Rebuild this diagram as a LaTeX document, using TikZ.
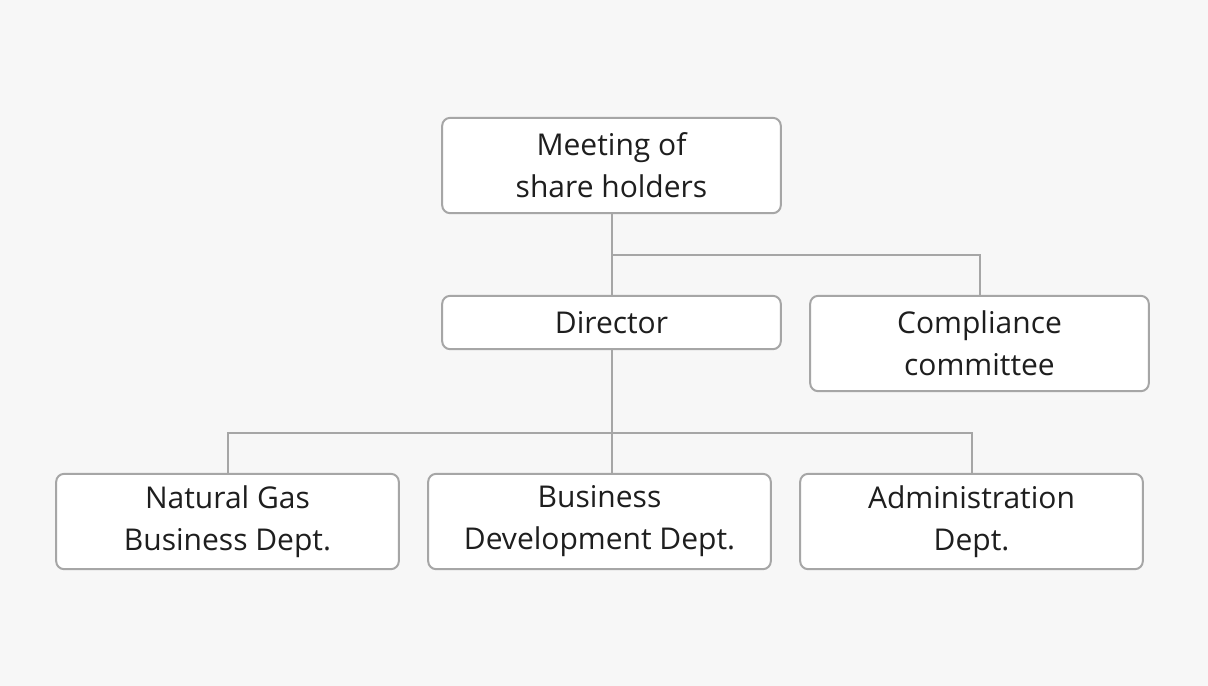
\documentclass[tikz,border=0pt]{standalone}
\usepackage{fontspec}
\setmainfont{Open Sans}
\definecolor{bgcol}{HTML}{F7F7F7}
\definecolor{edgecol}{HTML}{A6A6A6}
\definecolor{txtcol}{HTML}{1E1E1E}

\tikzset{every picture/.style={line width=1.5pt}}
\tikzset{
  unitbox/.style={draw=edgecol, fill=white, rounded corners=6pt, align=center,
    text=txtcol, font=\fontsize{22.5pt}{31.5pt}\selectfont, inner sep=0pt,
    minimum width=254pt},
  tallbox/.style={unitbox, minimum height=71.5pt},
  link/.style={draw=edgecol, line width=1.5pt}
}

\begin{document}
\begin{tikzpicture}[x=0.75pt,y=0.75pt,yscale=-1,xscale=1]
		%Shape: Background
		\fill[bgcol] (0,0) rectangle (1208,686);
		
		% Text Node
		\node [tallbox] (meeting) at (611.5,165.5) {Meeting of\\share holders};
		% Text Node
		\node [unitbox, minimum height=40pt] (director) at (611.5,322.5) {Director};
		% Text Node
		\node [tallbox] (compliance) at (979.5,343.5) {Compliance\\committee};
		% Text Node
		\node [tallbox, minimum width=257pt] (natgas) at (227.5,521.5) {Natural Gas\\Business Dept.};
		% Text Node
		\node [tallbox, minimum width=257pt] (busdev) at (599.5,521.5) {Business\\Development Dept.};
		% Text Node
		\node [tallbox, minimum width=257pt] (admin) at (971.5,521.5) {Administration\\Dept.};
		
		%Straight Lines
		\coordinate (upper) at (611.5,255);
		\coordinate (lower) at (611.5,433);
		\draw [link] (meeting.south) -- (director.north);
		\draw [link] (upper) -| (compliance.north);
		\draw [link] (director.south) -- (director.south |- busdev.north);
		\draw [link] (natgas.north) |- (lower) -| (admin.north);
	\end{tikzpicture}
\end{document}
